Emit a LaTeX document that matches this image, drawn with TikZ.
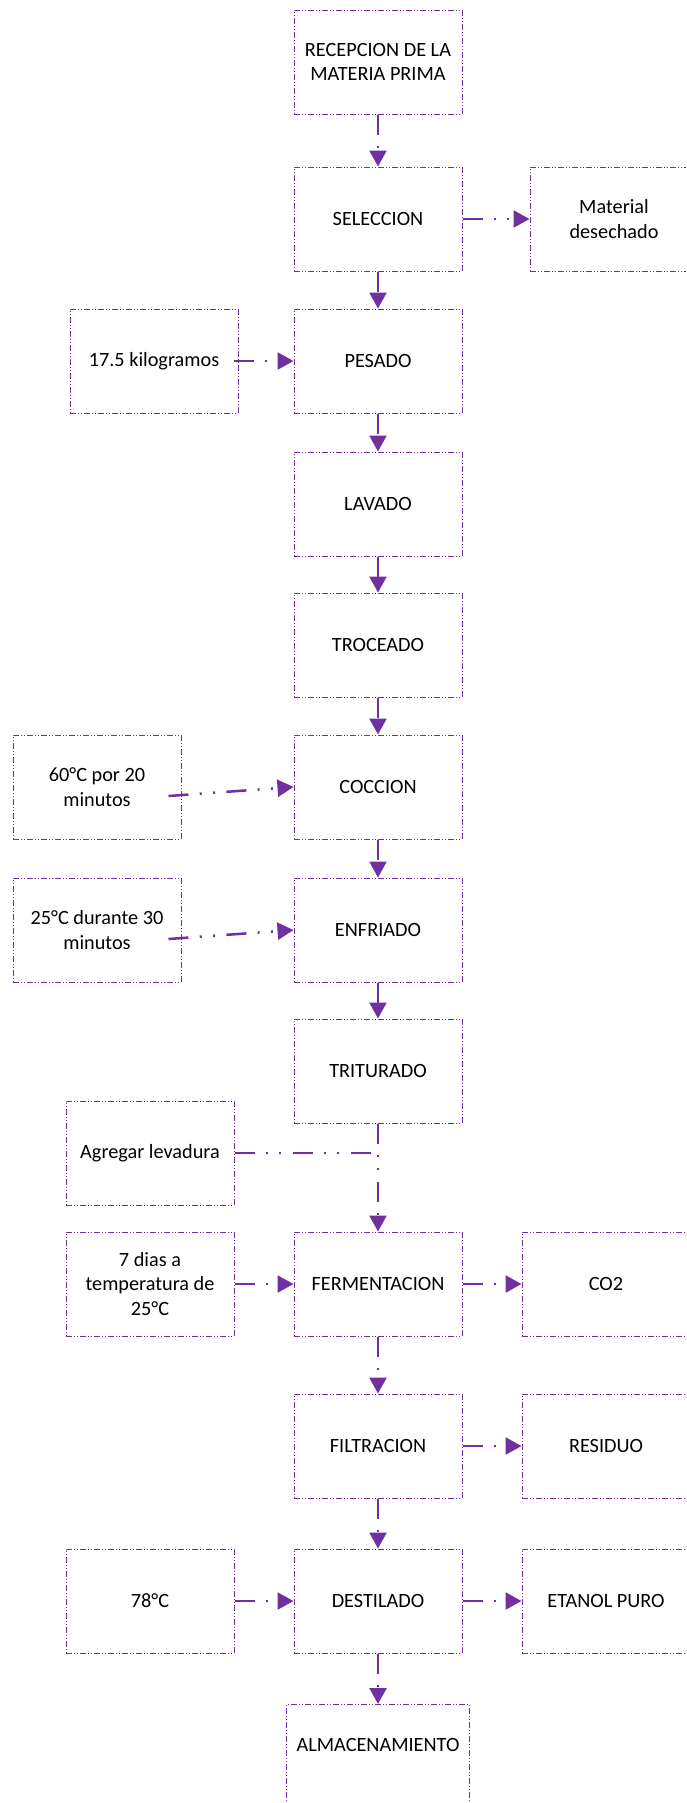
\documentclass[tikz,border=0pt]{standalone}
\usepackage{fontspec}
\setmainfont{Carlito}
\usetikzlibrary{arrows.meta,calc}
\definecolor{flowpurple}{HTML}{7030A0}
\begin{document}
\begin{tikzpicture}[x=0.75pt,y=-0.75pt,
  box/.style={draw=flowpurple, line width=0.75pt,
    dash pattern=on 4.5pt off 1.5pt on 0.75pt off 1.5pt on 0.75pt off 1.5pt,
    minimum width=126pt, minimum height=78pt, inner sep=2pt, align=center,
    font=\fontsize{15.2}{18.5}\selectfont, text=black},
  link/.style={draw=flowpurple, line width=1.9pt,
    dash pattern=on 15pt off 8.5pt on 1.5pt off 8.5pt on 1.5pt off 8.5pt},
  flow/.style={link, -{Triangle[length=12pt,width=12.75pt]}}
]
\clip (0,0) rectangle (686,1803);

% main process column
\node[box] (recep) at (378,62) {RECEPCION DE LA\\MATERIA PRIMA};
\node[box] (selec) at (378,219) {SELECCION};
\node[box] (pesado) at (378,361) {PESADO};
\node[box] (lavado) at (378,504) {LAVADO};
\node[box] (troceado) at (378,645) {TROCEADO};
\node[box] (coccion) at (378,787) {COCCION};
\node[box] (enfriado) at (378,930) {ENFRIADO};
\node[box] (triturado) at (378,1071) {TRITURADO};
\node[box] (ferm) at (378,1284) {FERMENTACION};
\node[box] (filtr) at (378,1446) {FILTRACION};
\node[box] (destil) at (378,1601) {DESTILADO};
\node[box, anchor=north, minimum width=137.25pt, inner ysep=0pt,
      text height=34.9pt, text depth=45pt] (almac) at (378,1704) {ALMACENAMIENTO};

% inputs on the left
\node[box] (kilos) at (154,361) {17.5 kilogramos};
\node[box] (tcoccion) at (97,787) {60°C por 20\\minutos};
\node[box] (tenfriado) at (97,930) {25°C durante 30\\minutos};
\node[box] (levadura) at (150,1153) {Agregar levadura};
\node[box] (tferm) at (150,1284) {7 dias a\\temperatura de\\25°C};
\node[box] (tdestil) at (150,1601) {78°C};

% outputs on the right
\node[box] (desech) at (614,219) {Material\\desechado};
\node[box] (co2) at (606,1284) {CO2};
\node[box] (residuo) at (606,1446) {RESIDUO};
\node[box] (etanol) at (606,1601) {ETANOL PURO};

\coordinate (union) at (378,1153);

% main flow
\draw[flow] (recep.south) -- (selec.north);
\draw[flow] (selec.south) -- (pesado.north);
\draw[flow] (pesado.south) -- (lavado.north);
\draw[flow] (lavado.south) -- (troceado.north);
\draw[flow] (troceado.south) -- (coccion.north);
\draw[flow] (coccion.south) -- (enfriado.north);
\draw[flow] (enfriado.south) -- (triturado.north);
\draw[flow] (triturado.south) -- (ferm.north);
\draw[flow] (ferm.south) -- (filtr.north);
\draw[flow] (filtr.south) -- (destil.north);
\draw[flow] (destil.south) -- (almac.north);

% side inputs
\draw[flow] ($(kilos.east)+(-5,0)$) -- (pesado.west);
\draw[flow] ($(tcoccion.east)+(-13,9)$) -- (coccion.west);
\draw[flow] ($(tenfriado.east)+(-13,9)$) -- (enfriado.west);
\draw[link] (levadura.east) -- (union);
\draw[flow] (tferm.east) -- (ferm.west);
\draw[flow] (tdestil.east) -- (destil.west);

% side outputs
\draw[flow] (selec.east) -- (desech.west);
\draw[flow] (ferm.east) -- (co2.west);
\draw[flow] (filtr.east) -- (residuo.west);
\draw[flow] (destil.east) -- (etanol.west);
\end{tikzpicture}
\end{document}
